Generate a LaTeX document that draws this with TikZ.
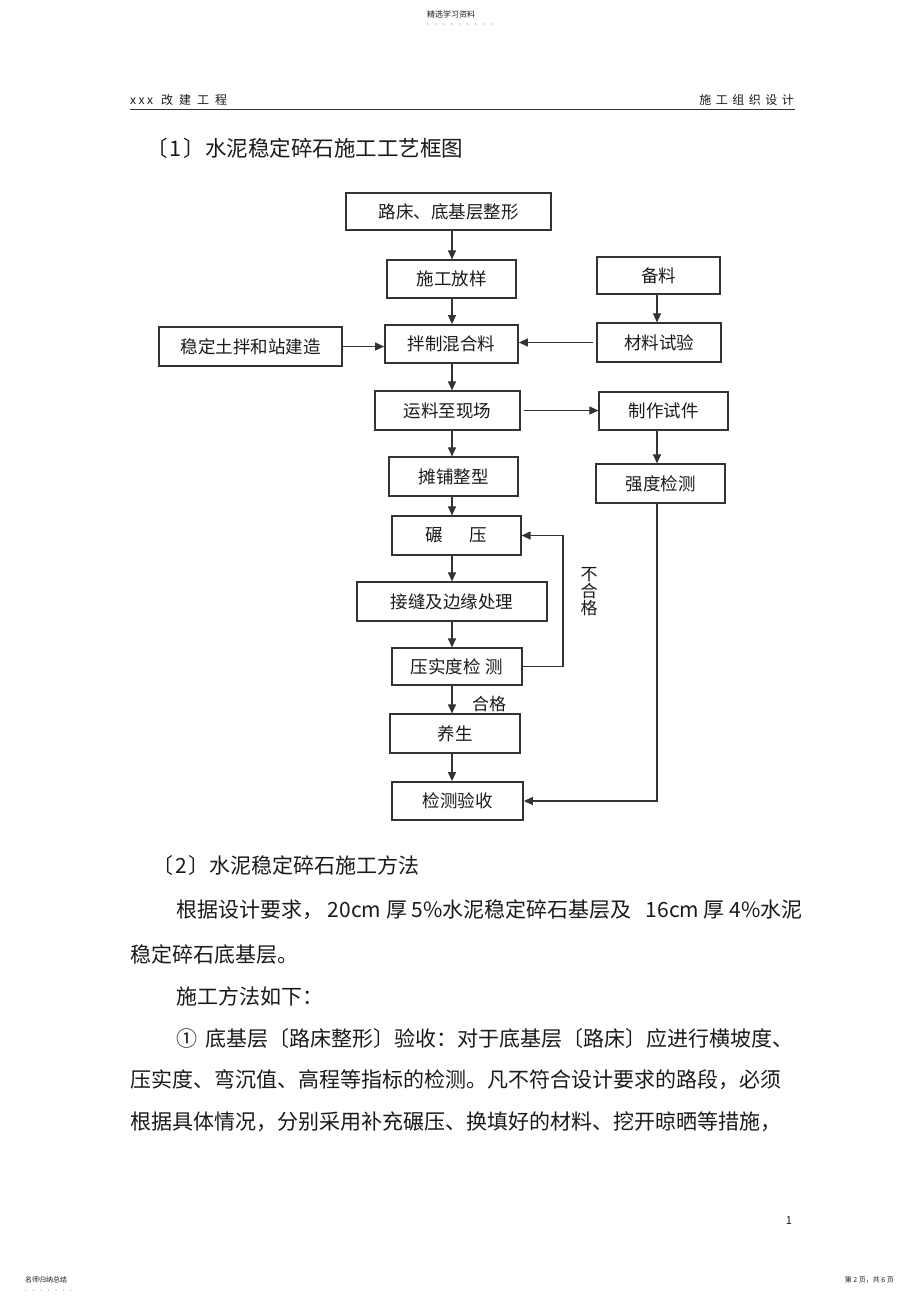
\documentclass[tikz,border=0pt]{standalone}
\usepackage{fontspec}
\setmainfont{Noto Sans CJK SC}
\usetikzlibrary{arrows.meta}
\definecolor{lncol}{HTML}{333333}
\definecolor{txcol}{HTML}{1A1A1A}
\begin{document}
\begin{tikzpicture}[x=1pt,y=-1pt,
  box/.style={draw=lncol, line width=1.2pt, inner sep=0pt, text=txcol, font=\fontsize{17.5}{20}\selectfont},
  thickbox/.style={box, line width=1.8pt},
  arr/.style={draw=lncol, line width=1.1pt, -{Triangle[length=9pt,width=8pt]}},
  body/.style={anchor=west, inner sep=0pt, text=txcol, font=\fontsize{21}{24}\selectfont},
  small/.style={inner sep=0pt, text=txcol},
]
\useasboundingbox[fill=white] (0,0) rectangle (920,1303);

% page decorations
\node[small, font=\fontsize{8}{9}\selectfont] (jx) at (451,14) {精选学习资料};
\foreach \i in {0,...,8} \fill[gray] (428+\i*7.9,24) circle (0.6pt);
\node[small, anchor=west, font=\fontsize{12}{14}\selectfont] (hl) at (130,100) {x\hspace{2.5pt}x\hspace{2.5pt}x\hspace{8pt}改\hspace{6pt}建\hspace{6pt}工\hspace{6pt}程};
\node[small, anchor=east, font=\fontsize{12}{14}\selectfont] (hr) at (794,100) {施\hspace{4.5pt}工\hspace{4.5pt}组\hspace{4.5pt}织\hspace{4.5pt}设\hspace{4.5pt}计};
\draw[line width=1pt, lncol] (130,110) -- (795,110);
\node[small, anchor=west, font=\fontsize{21.5}{24}\selectfont] (t1) at (146,148) {〔\hspace{2pt}1\hspace{2pt}〕水泥稳定碎石施工工艺框图};

% flowchart boxes
\node[box, minimum width=205pt, minimum height=37pt] (lc) at (448.5,211.5) {路床、底基层整形};
\node[box, minimum width=129pt, minimum height=38pt] (fy) at (451.5,279) {施工放样};
\node[box, minimum width=123pt, minimum height=37pt] (bl) at (658.5,275.5) {备料};
\node[box, minimum width=183pt, minimum height=39pt] (wd) at (250.5,346.5) {稳定土拌和站建造};
\node[thickbox, minimum width=133pt, minimum height=38pt] (bz) at (451.5,344) {拌制混合料};
\node[box, minimum width=124pt, minimum height=39pt] (cl) at (659,342.5) {材料试验};
\node[box, minimum width=145pt, minimum height=39pt] (yl) at (447.5,410.5) {运料至现场};
\node[box, minimum width=129pt, minimum height=38pt] (zz) at (663.5,411) {制作试件};
\node[box, minimum width=129pt, minimum height=39pt] (tp) at (453.5,476.5) {摊铺整型};
\node[box, minimum width=129pt, minimum height=39pt] (qd) at (660.5,483.5) {强度检测};
\node[box, minimum width=129pt, minimum height=39pt] (ny) at (456.5,535.5) {碾\hspace{27pt}压};
\node[box, minimum width=190pt, minimum height=39pt] (jf) at (452,601.5) {接缝及边缘处理};
\node[box, minimum width=130pt, minimum height=37pt] (ys) at (457,666.5) {压实度检\hspace{5pt}测};
\node[box, minimum width=130pt, minimum height=39pt] (yang) at (455,733.5) {养生};
\node[thickbox, minimum width=131pt, minimum height=38pt] (js) at (457.5,801) {检测验收};

\node[small, align=center, font=\fontsize{17}{17}\selectfont] (bhg) at (589,592) {不\\合\\格};
\node[small, font=\fontsize{17}{19}\selectfont] (hg) at (489,704) {合格};

% connectors
\coordinate (spine) at (452,0);
\coordinate (rcol) at (657,0);
\coordinate (fb) at (563,0);
\draw[arr] (lc.south -| spine) -- (fy.north -| spine);
\draw[arr] (fy.south -| spine) -- (bz.north -| spine);
\draw[arr] (bz.south -| spine) -- (yl.north -| spine);
\draw[arr] (yl.south -| spine) -- (tp.north -| spine);
\draw[arr] (tp.south -| spine) -- (ny.north -| spine);
\draw[arr] (ny.south -| spine) -- (jf.north -| spine);
\draw[arr] (jf.south -| spine) -- (ys.north -| spine);
\draw[arr] (ys.south -| spine) -- (yang.north -| spine);
\draw[arr] (yang.south -| spine) -- (js.north -| spine);
\draw[arr] (wd.east) -- (wd.east -| bz.west);
\draw[arr, shorten <=3pt] (cl.west) -- (cl.west -| bz.east);
\draw[arr] (bl.south -| rcol) -- (cl.north -| rcol);
\draw[arr, shorten <=3pt] (yl.east) -- (yl.east -| zz.west);
\draw[arr] (zz.south -| rcol) -- (qd.north -| rcol);
\draw[arr] (qd.south -| rcol) |- (js.east);
\draw[arr] (ys.east) -- (ys.east -| fb) -- (fb |- ny.east) -- (ny.east);

% body text
\node[body] (s2) at (152,866) {〔\hspace{2pt}2\hspace{2pt}〕水泥稳定碎石施工方法};
\node[body] (p1) at (176,910) {根据设计要求， 20cm 厚 5\%水泥稳定碎石基层及\hspace{14pt}16cm 厚 4\%水泥};
\node[body] (p2) at (130,955) {稳定碎石底基层。};
\node[body] (p3) at (176,996) {施工方法如下：};
\node[body] (p4) at (176,1039) {①\hspace{8pt}底基层〔路床整形〕验收：对于底基层〔路床〕应进行横坡度、};
\node[body] (p5) at (130,1080) {压实度、弯沉值、高程等指标的检测。凡不符合设计要求的路段，必须};
\node[body] (p6) at (130,1122) {根据具体情况，分别采用补充碾压、换填好的材料、挖开晾晒等措施，};

% footer
\node[small, font=\fontsize{11}{12}\selectfont] (pn) at (789,1221) {1};
\node[small, anchor=west, font=\fontsize{7}{8}\selectfont] (fl) at (25,1280) {名师归纳总结};
\foreach \i in {0,...,6} \fill[gray] (26+\i*7.5,1290) circle (0.5pt);
\node[small, anchor=east, font=\fontsize{7}{8}\selectfont] (fr) at (894,1280) {第 2 页，共 6 页};
\end{tikzpicture}
\end{document}
